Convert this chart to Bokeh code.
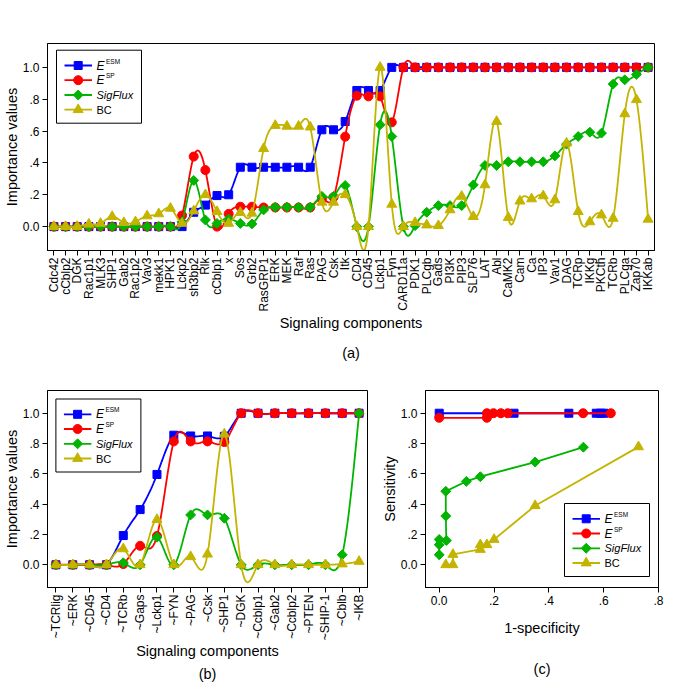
import numpy as np
from bokeh.plotting import figure
from bokeh.layouts import column, row
from bokeh.models import FixedTicker, CustomJSTickFormatter, Title, Range1d
from bokeh.core.properties import value
from bokeh.embed import file_html
from bokeh.resources import INLINE

FONT = "Liberation Sans"

# ---------------- data: panel (a) ----------------
cats_a = ["Cdc42", "cCblp2", "DGK", "Rac1p1", "MLK3", "SHP1", "Gab2", "Rac1p2", "Vav3", "mekk1",
          "HPK1", "Lckp2", "sh3bp2", "Rlk", "cCblp1", "x", "Sos", "Grb2", "RasGRP1", "ERK",
          "MEK", "Raf", "Ras", "PAG", "Csk", "Itk", "CD4", "CD45", "Lckp1", "Fyn",
          "CARD11a", "PDK1", "PLCgb", "Gads", "PI3K", "PIP3", "SLP76", "LAT", "Abl", "CaMK2",
          "Cam", "Ca", "IP3", "Vav1", "DAG", "TCRp", "IKKg", "PKCth", "TCRb", "PLCga",
          "Zap70", "IKKab"]
esm_a = [0, 0, 0, 0, 0, 0, 0, 0, 0, 0,
         0, 0, 0.09, 0.135, 0.195, 0.2, 0.373, 0.373, 0.373, 0.373,
         0.373, 0.373, 0.373, 0.608, 0.608, 0.66, 0.855, 0.855, 0.855, 1.0,
         1, 1, 1, 1, 1, 1, 1, 1, 1, 1,
         1, 1, 1, 1, 1, 1, 1, 1, 1, 1,
         1, 1]
sp_a = [0, 0, 0, 0, 0, 0, 0, 0, 0, 0,
        0, 0.07, 0.44, 0.355, 0.0, 0.08, 0.125, 0.125, 0.12, 0.12,
        0.12, 0.12, 0.12, 0.175, 0.185, 0.565, 0.822, 0.818, 0.818, 0.655,
        1, 1, 1, 1, 1, 1, 1, 1, 1, 1,
        1, 1, 1, 1, 1, 1, 1, 1, 1, 1,
        1, 1]
sig_a = [0, 0, 0, 0, 0, 0, 0, 0, 0, 0,
         0, 0.03, 0.29, 0.042, 0.02, 0.048, 0.02, 0.017, 0.105, 0.122,
         0.122, 0.122, 0.122, 0.19, 0.19, 0.258, 0.0, 0.0, 0.64, 0.566,
         0.0, 0.006, 0.09, 0.132, 0.132, 0.132, 0.262, 0.384, 0.384, 0.407,
         0.407, 0.407, 0.407, 0.444, 0.518, 0.566, 0.593, 0.587, 0.895, 0.922,
         0.956, 1.0]
bc_a = [0, 0, 0, 0.015, 0.02, 0.063, 0.025, 0.03, 0.067, 0.08,
        0.115, 0.02, 0.098, 0.2, 0.094, 0.02, 0.088, 0.084, 0.49, 0.635,
        0.63, 0.63, 0.625, 0.153, 0.153, 0.2, 0.0, 0.0, 1.0, 0.14,
        0.0, 0.025, 0.01, 0.006, 0.105, 0.19, 0.063, 0.262, 0.66, 0.057,
        0.16, 0.174, 0.193, 0.168, 0.524, 0.094, 0.03, 0.073, 0.052, 0.708,
        0.797, 0.046]

# ---------------- data: panel (b) ----------------
cats_b = ["~TCRlig", "~ERK", "~CD45", "~CD4", "~TCRb", "~Gaps", "~Lckp1", "~FYN", "~PAG", "~Csk",
          "~SHP1", "~DGK", "~Ccblp1", "~Gab2", "~Ccblp2", "~PTEN", "~SHIP-1", "~Cblb", "~IKB"]
esm_b = [0, 0, 0, 0, 0.193, 0.364, 0.596, 0.855, 0.85, 0.85, 0.848, 1, 1, 1, 1, 1, 1, 1, 1]
sp_b = [0, 0, 0, 0, 0.005, 0.125, 0.19, 0.814, 0.814, 0.814, 0.81, 1, 1, 1, 1, 1, 1, 1, 1]
sig_b = [0, 0, 0, 0, 0.013, 0, 0.182, 0, 0.329, 0.329, 0.307, 0, 0, 0, 0, 0, 0, 0.066, 1.0]
bc_b = [0, 0, 0, 0, 0.105, 0, 0.298, 0, 0.053, 0.07, 0.862, 0, 0, 0, 0, 0, 0, 0.005, 0.022]

# ---------------- data: panel (c) ----------------
esm_c_x = [0.0, 0.273, 0.473, 0.573, 0.589, 0.601]
esm_c_y = [1.0, 1.0, 1.0, 1.0, 1.0, 1.0]
sp_c_x = [0.0, 0.174, 0.174, 0.198, 0.225, 0.25, 0.525, 0.626]
sp_c_y = [0.97, 0.97, 1.0, 1.0, 1.0, 1.0, 1.0, 1.0]
sig_c_x = [0.0, 0.0, 0.0, 0.026, 0.024, 0.024, 0.099, 0.15, 0.35, 0.526]
sig_c_y = [0.066, 0.132, 0.167, 0.16, 0.322, 0.485, 0.55, 0.581, 0.678, 0.776]
bc_c_x = [0.024, 0.05, 0.05, 0.15, 0.15, 0.174, 0.2, 0.35, 0.727]
bc_c_y = [0.0, 0.0, 0.068, 0.101, 0.132, 0.132, 0.167, 0.39, 0.778]

y_ticks = [0, 0.2, 0.4, 0.6, 0.8, 1.0]
x_ticks_c = [0, 0.2, 0.4, 0.6, 0.8]

# ---------------- styles ----------------
BLUE, RED, GREEN, OLIVE = "#0000FF", "#FF0000", "#00B400", "#C4B400"
SERIES = [
    # color, marker, size, angle, legend main, superscript, italic
    (BLUE, "square", 8, 0.0, "E", "ESM", True),
    (RED, "circle", 9, 0.0, "E", "SP", True),
    (GREEN, "square", 7, np.pi / 4, "SigFlux", "", True),
    (OLIVE, "triangle", 10, 0.0, "BC", "", False),
]
LW = 1.8

dec_fmt = CustomJSTickFormatter(code="""
if (Math.abs(tick) < 1e-9) return "0.0";
if (Math.abs(tick - 1) < 1e-9) return "1.0";
return tick.toFixed(1).replace(/^0/, "");
""")


def natural_spline(xs, ys, per=14):
    xs = np.asarray(xs, float)
    ys = np.asarray(ys, float)
    n = len(xs)
    h = np.diff(xs)
    A = np.zeros((n, n))
    r = np.zeros(n)
    A[0, 0] = 1
    A[-1, -1] = 1
    for i in range(1, n - 1):
        A[i, i - 1] = h[i - 1]
        A[i, i] = 2 * (h[i - 1] + h[i])
        A[i, i + 1] = h[i]
        r[i] = 6 * ((ys[i + 1] - ys[i]) / h[i] - (ys[i] - ys[i - 1]) / h[i - 1])
    M = np.linalg.solve(A, r)
    ox, oy = [], []
    for i in range(n - 1):
        t = np.linspace(xs[i], xs[i + 1], per, endpoint=(i == n - 2))
        a = xs[i + 1] - t
        b = t - xs[i]
        hi = h[i]
        s = (M[i] * a ** 3 / (6 * hi) + M[i + 1] * b ** 3 / (6 * hi)
             + (ys[i] / hi - M[i] * hi / 6) * a + (ys[i + 1] / hi - M[i + 1] * hi / 6) * b)
        ox.extend(t.tolist())
        oy.extend(s.tolist())
    return ox, oy


def make_fig(fw, fh, left, right, top, bottom, xr, yr):
    p = figure(frame_width=fw, frame_height=fh, x_range=Range1d(*xr), y_range=Range1d(*yr),
               min_border_left=left, min_border_right=right,
               min_border_top=top, min_border_bottom=bottom,
               output_backend="svg", toolbar_location=None, tools="")
    p.grid.visible = False
    p.outline_line_color = "black"
    p.outline_line_width = 1
    p.outline_line_alpha = 1
    p.background_fill_color = "white"
    p.border_fill_color = "white"
    for ax in (p.xaxis[0], p.yaxis[0]):
        ax.axis_line_color = "black"
        ax.major_tick_in = 0
        ax.major_tick_out = 5
        ax.minor_tick_line_color = None
        ax.major_tick_line_color = "black"
        ax.major_label_text_font = FONT
        ax.major_label_text_font_size = "12px"
        ax.major_label_text_color = "black"
        ax.major_label_standoff = 3
        ax.axis_label_text_font = FONT
        ax.axis_label_text_font_size = "14.5px"
        ax.axis_label_text_font_style = "normal"
        ax.axis_label_text_color = "black"
        ax.axis_label_standoff = 3
    p.xaxis.major_label_standoff = 2
    p.yaxis.axis_label_standoff = 0
    p.yaxis.ticker = FixedTicker(ticks=y_ticks)
    p.yaxis.formatter = dec_fmt
    return p


def add_legend(p, fw, fh, xr, yr, bx, by):
    def X(px):
        return xr[0] + px / fw * (xr[1] - xr[0])

    def Y(py):
        return yr[1] - py / fh * (yr[1] - yr[0])
    bw, bh = 85, 73
    p.quad(left=[X(bx)], right=[X(bx + bw)], top=[Y(by)], bottom=[Y(by + bh)],
           fill_color="white", line_color="black", line_width=1)
    rows = [15.3, 30.0, 44.8, 59.5]
    for (col, mk, sz, ang, main, sup, ital), ry in zip(SERIES, rows):
        yy = Y(by + ry)
        p.line([X(bx + 8), X(bx + 35.5)], [yy, yy], line_color=col, line_width=LW)
        p.scatter([X(bx + 21.7)], [yy], marker=mk, size=sz, angle=ang,
                  fill_color=col, line_color=col)
        fs = "12px" if sup else "11px"
        p.text([X(bx + 40)], [yy], text=[main], text_font=value(FONT), text_font_size=fs,
               text_font_style="italic" if ital else "normal", text_baseline="middle",
               text_align="left", text_color="black")
        if sup:
            p.text([X(bx + 40 + 9.5)], [Y(by + ry - 4.5)], text=[sup], text_font=value(FONT),
                   text_font_size="6.5px", text_baseline="middle", text_align="left",
                   text_color="black")


def add_series(p, xs, ys, col, mk, sz, ang, smooth=True):
    if smooth:
        lx, ly = natural_spline(xs, ys)
    else:
        lx, ly = xs, ys
    p.line(lx, ly, line_color=col, line_width=LW)
    p.scatter(xs, ys, marker=mk, size=sz, angle=ang, fill_color=col, line_color=col)


def cat_axis(p, cats):
    p.xaxis.ticker = FixedTicker(ticks=list(range(len(cats))))
    p.xaxis.formatter = CustomJSTickFormatter(args=dict(labels=cats),
                                              code="return labels[Math.round(tick)] || '';")
    p.xaxis.major_label_orientation = np.pi / 2


def add_panel_title(p, txt, standoff):
    p.add_layout(Title(text=txt, align="center", text_font=FONT, text_font_size="14.5px",
                       text_font_style="normal", text_color="black", standoff=standoff), "below")


YR = (-0.15, 1.15)

# ---------------- panel (a) ----------------
XR_A = (-0.55, 51.55)
pa = make_fig(607, 207, 46, 16, 43, 120, XR_A, YR)
cat_axis(pa, cats_a)
pa.xaxis.axis_label = "Signaling components"
pa.xaxis.axis_label_standoff = 0
pa.yaxis.axis_label = "Importance values"
xa = list(range(len(cats_a)))
for (col, mk, sz, ang, *_), ys in zip(SERIES, [esm_a, sp_a, sig_a, bc_a]):
    add_series(pa, xa, ys, col, mk, sz, ang)
add_legend(pa, 607, 207, XR_A, YR, 9, 6.7)
add_panel_title(pa, "(a)", 19)

# ---------------- panel (b) ----------------
XR_B = (-0.5, 18.5)
pb = make_fig(320, 197, 44, 11, 20, 85, XR_B, YR)
cat_axis(pb, cats_b)
pb.xaxis.axis_label = "Signaling components"
pb.xaxis.axis_label_standoff = 0
pb.yaxis.axis_label = "Importance values"
xb = list(range(len(cats_b)))
for (col, mk, sz, ang, *_), ys in zip(SERIES, [esm_b, sp_b, sig_b, bc_b]):
    add_series(pb, xb, ys, col, mk, sz, ang)
add_legend(pb, 320, 197, XR_B, YR, 8.4, 8.5)
add_panel_title(pb, "(b)", 3)

# ---------------- panel (c) ----------------
XR_C = (-0.05, 0.8)
pc = make_fig(233, 197, 45, 16, 20, 85, XR_C, YR)
pc.xaxis.ticker = FixedTicker(ticks=x_ticks_c)
pc.xaxis.formatter = dec_fmt
pc.xaxis.major_label_standoff = 3
pc.xaxis.axis_label = "1-specificity"
pc.xaxis.axis_label_standoff = 12
pc.yaxis.axis_label = "Sensitivity"
for (col, mk, sz, ang, *_), (xs, ys) in zip(SERIES, [(esm_c_x, esm_c_y), (sp_c_x, sp_c_y),
                                                     (sig_c_x, sig_c_y), (bc_c_x, bc_c_y)]):
    add_series(pc, xs, ys, col, mk, sz, ang, smooth=False)
add_legend(pc, 233, 197, XR_C, YR, 139, 113)
add_panel_title(pc, "(c)", 41)

layout = column(pa, row(pb, pc))
open("out.html", "w").write(file_html(layout, INLINE))
